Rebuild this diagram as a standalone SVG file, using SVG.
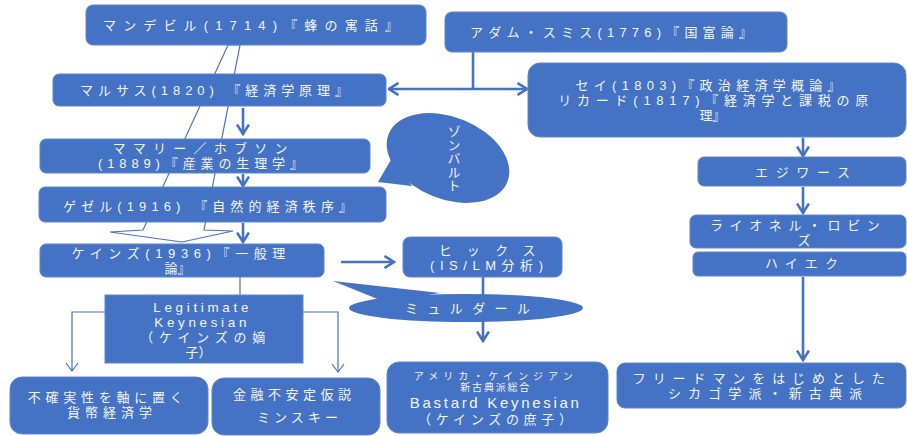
<svg xmlns="http://www.w3.org/2000/svg" width="907" height="436" viewBox="0 0 907 436">
  <style>
    .box { fill: #4472C4; stroke: #5f86cc; stroke-width: 1; }
    .bubble { fill: #4472C4; stroke: none; }
    .t { font-family: "Liberation Sans", "Noto Sans CJK JP", sans-serif; font-size: 13px; fill: #f4f4f4; text-anchor: middle; }
    .lat { font-size: 13.4px; }
    .sm { font-size: 10px; }
    .thick { fill: none; stroke: #4472C4; stroke-width: 2.6; }
    .thin { fill: none; stroke: #4472C4; stroke-width: 1.2; }
    .hollow { fill: #ffffff; stroke: #4472C4; stroke-width: 1.2; stroke-linejoin: miter; }
  </style>
  <defs>
    <marker id="head" viewBox="0 0 12 14" refX="10.5" refY="7" markerWidth="12" markerHeight="14" markerUnits="userSpaceOnUse" orient="auto-start-reverse">
      <path d="M1,1 L10.5,7 L1,13" fill="none" stroke="#4472C4" stroke-width="2.6"/>
    </marker>
    <marker id="headThin" viewBox="0 0 10 14" refX="9" refY="7" markerWidth="10" markerHeight="14" markerUnits="userSpaceOnUse" orient="auto">
      <path d="M1,1 L9,7 L1,13" fill="none" stroke="#4472C4" stroke-width="1.2"/>
    </marker>
  </defs>

  <!-- connectors -->
  <g id="connectors">
    <!-- broad hollow arrow from Mandeville down to Keynes, running behind the middle boxes -->
    <polygon class="hollow" points="228,45 240,45 204,230 233,231 182,242 110,232 143,230"/>
    <path class="thick" d="M473,52 V89"/>
    <path class="thick" d="M389,89 H527" marker-start="url(#head)" marker-end="url(#head)"/>
    <path class="thick" d="M243,108 V134" marker-end="url(#head)"/>
    <path class="thick" d="M243,174 V186" marker-end="url(#head)"/>
    <path class="thick" d="M243,223 V242" marker-end="url(#head)"/>
    <path class="thick" d="M341,262 H394" marker-end="url(#head)"/>
    <path class="thick" d="M483,277 V341" marker-end="url(#head)"/>
    <path class="thick" d="M803,138 V156" marker-end="url(#head)"/>
    <path class="thick" d="M803,187 V213" marker-end="url(#head)"/>
    <path class="thick" d="M803,277 V360" marker-end="url(#head)"/>
    <path class="thin" d="M240,277 V295"/>
    <path class="thin" d="M105,312 H72 V371" marker-end="url(#headThin)"/>
    <path class="thin" d="M303,312 H338 V372" marker-end="url(#headThin)"/>
  </g>

  <g id="mandeville">
    <rect class="box" x="86" y="5" width="340" height="40" rx="7"/>
    <text class="t" x="250.5" y="30" font-size="14.5" textLength="295" lengthAdjust="spacing">マンデビル(1714)『蜂の寓話』</text>
  </g>

  <g id="smith">
    <rect class="box" x="445" y="12" width="342" height="40" rx="7"/>
    <text class="t" x="611" y="37" font-size="14" textLength="282" lengthAdjust="spacing">アダム・スミス(1776)『国富論』</text>
  </g>

  <g id="malthus">
    <rect class="box" x="53" y="74" width="333" height="32" rx="6"/>
    <text class="t" x="214" y="95" font-size="14" textLength="268" lengthAdjust="spacing">マルサス(1820) 『経済学原理』</text>
  </g>

  <g id="say-ricardo">
    <rect class="box" x="528" y="63" width="378" height="74" rx="12"/>
    <text class="t">
      <tspan x="712.5" y="90" textLength="265" lengthAdjust="spacing">セイ(1803)『政治経済学概論』</tspan>
      <tspan x="718" y="105" textLength="310" lengthAdjust="spacing">リカード(1817)『経済学と課税の原</tspan>
      <tspan x="712.5" y="120">理』</tspan>
    </text>
  </g>

  <g id="mummery-hobson">
    <rect class="box" x="40" y="139" width="330" height="34" rx="6"/>
    <text class="t">
      <tspan x="205.5" y="153" textLength="175" lengthAdjust="spacing">ママリー／ホブソン</tspan>
      <tspan x="200.5" y="168" textLength="205" lengthAdjust="spacing">(1889)『産業の生理学』</tspan>
    </text>
  </g>

  <g id="gesell">
    <rect class="box" x="39" y="187" width="347" height="35" rx="6"/>
    <text class="t" x="207.5" y="211" font-size="14" textLength="289" lengthAdjust="spacing">ゲゼル(1916) 『自然的経済秩序』</text>
  </g>

  <g id="keynes">
    <rect class="box" x="40" y="244" width="284" height="33" rx="6"/>
    <text class="t">
      <tspan x="183" y="258" textLength="214" lengthAdjust="spacing">ケインズ(1936)『一般理</tspan>
      <tspan x="177.5" y="273">論』</tspan>
    </text>
  </g>

  <g id="sombart">
    <ellipse class="bubble" cx="448" cy="158" rx="64" ry="41" transform="rotate(22 448 158)"/>
    <polygon class="bubble" points="378,182 392,158 412,186"/>
    <text class="t" x="453" y="125" font-size="13" writing-mode="vertical-rl" style="text-anchor:start" letter-spacing="0.5">ゾンバルト</text>
  </g>

  <g id="hicks">
    <rect class="box" x="403" y="237" width="159" height="40" rx="7"/>
    <text class="t">
      <tspan x="496.5" y="255" textLength="97" lengthAdjust="spacing">ヒックス</tspan>
      <tspan x="486.5" y="270" textLength="113" lengthAdjust="spacing">(IS/LM分析)</tspan>
    </text>
  </g>

  <g id="myrdal">
    <polygon class="bubble" points="333,281 440,293 385,302"/>
    <ellipse class="bubble" cx="466" cy="308" rx="117" ry="14"/>
    <text class="t" x="467.5" y="313" textLength="125" lengthAdjust="spacing">ミュルダール</text>
  </g>

  <g id="edgeworth">
    <rect class="box" x="698" y="157" width="208" height="29" rx="6"/>
    <text class="t" x="802.5" y="177" textLength="95" lengthAdjust="spacing">エジワース</text>
  </g>

  <g id="robbins">
    <rect class="box" x="690" y="215" width="216" height="33" rx="6"/>
    <text class="t">
      <tspan x="800" y="230" textLength="170" lengthAdjust="spacing">ライオネル・ロビン</tspan>
      <tspan x="804" y="245">ズ</tspan>
    </text>
  </g>

  <g id="hayek">
    <rect class="box" x="693" y="252" width="213" height="24" rx="5"/>
    <text class="t" x="801.5" y="268" textLength="73" lengthAdjust="spacing">ハイエク</text>
  </g>

  <g id="legitimate">
    <rect class="box" x="105" y="295" width="198" height="68"/>
    <text class="t">
      <tspan class="lat" x="204.5" y="312" textLength="95" lengthAdjust="spacing">Legitimate</tspan>
      <tspan class="lat" x="204" y="327" textLength="92" lengthAdjust="spacing">Keynesian</tspan>
      <tspan x="207.5" y="342" textLength="125" lengthAdjust="spacing">（ケインズの嫡</tspan>
      <tspan x="198.5" y="357">子）</tspan>
    </text>
  </g>

  <g id="monetary">
    <rect class="box" x="10" y="377" width="198" height="57" rx="12"/>
    <text class="t">
      <tspan x="109.5" y="402" textLength="155" lengthAdjust="spacing">不確実性を軸に置く</tspan>
      <tspan x="109.5" y="417" textLength="85" lengthAdjust="spacing">貨幣経済学</tspan>
    </text>
  </g>

  <g id="minsky">
    <rect class="box" x="212" y="378" width="168" height="57" rx="12"/>
    <text class="t">
      <tspan x="296" y="399" textLength="118" lengthAdjust="spacing">金融不安定仮説</tspan>
      <tspan x="297.5" y="422" textLength="81" lengthAdjust="spacing">ミンスキー</tspan>
    </text>
  </g>

  <g id="bastard">
    <rect class="box" x="387" y="362" width="221" height="71" rx="12"/>
    <text class="t">
      <tspan class="sm" x="497.5" y="380" textLength="159" lengthAdjust="spacing">アメリカ・ケインジアン</tspan>
      <tspan class="sm" x="497.5" y="391" textLength="69" lengthAdjust="spacing">新古典派総合</tspan>
      <tspan x="497.5" y="408" font-size="15" textLength="169" lengthAdjust="spacing">Bastard Keynesian</tspan>
      <tspan x="495" y="424" textLength="154" lengthAdjust="spacing">（ケインズの庶子）</tspan>
    </text>
  </g>

  <g id="chicago">
    <rect class="box" x="617" y="363" width="289" height="45" rx="8"/>
    <text class="t">
      <tspan x="764" y="383" textLength="252" lengthAdjust="spacing">フリードマンをはじめとした</tspan>
      <tspan x="765" y="398" textLength="194" lengthAdjust="spacing">シカゴ学派・新古典派</tspan>
    </text>
  </g>
</svg>
